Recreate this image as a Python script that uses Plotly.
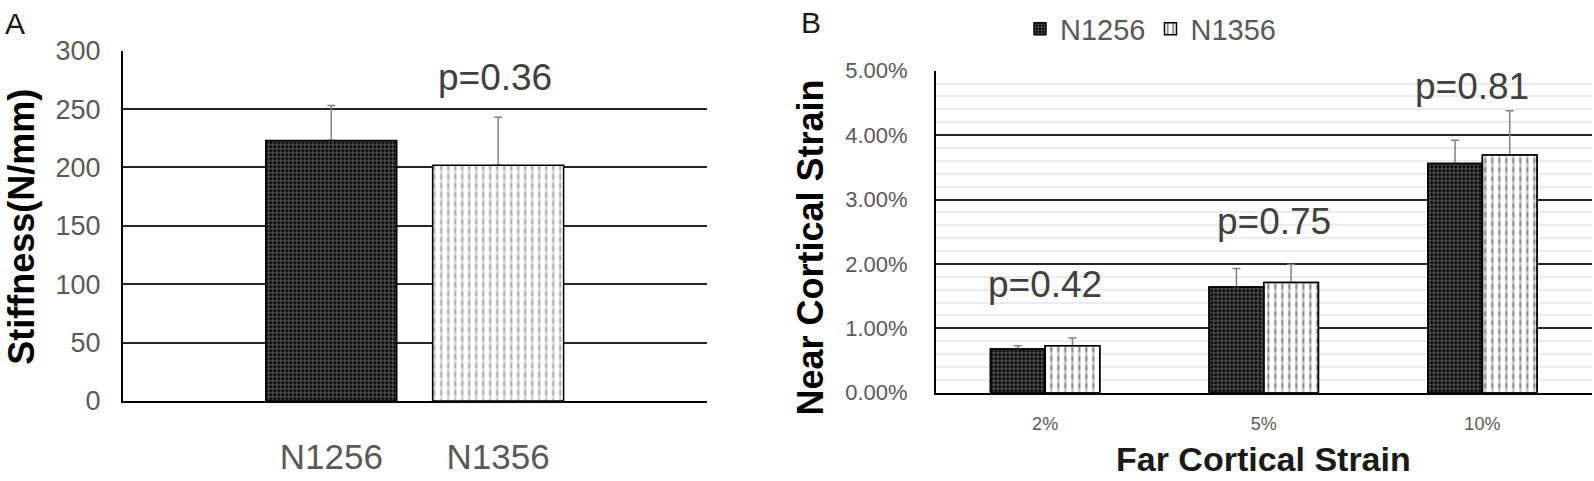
import plotly.graph_objects as go

# ---------------- data ----------------
groups_a = ["N1256", "N1356"]
stiffness = [223, 202]
stiffness_err = [30, 41]
p_a = "p=0.36"

strain_cats = ["2%", "5%", "10%"]
n1256 = [0.0068, 0.0164, 0.0356]
n1256_err = [0.0005, 0.0029, 0.0036]
n1356 = [0.0073, 0.0171, 0.0369]
n1356_err = [0.0012, 0.0028, 0.0069]
p_b = ["p=0.42", "p=0.75", "p=0.81"]

W, H = 1594, 481
FONT = "Liberation Sans, Arial, sans-serif"
GRAY = "#595959"
TXT = "#404040"

fig = go.Figure()

dark_pat = dict(shape="+", fgcolor="white", bgcolor="black", size=4, solidity=0.35)
dash_pat = dict(shape="|", fgcolor="black", bgcolor="white", size=7, solidity=0.3)
cut_pat = dict(shape="-", fgcolor="white", size=9, solidity=0.45, fillmode="overlay")
err_style = dict(type="data", symmetric=False, color="#808080", thickness=1.5, width=4)

# ---------------- panel A ----------------
fig.add_trace(go.Bar(
    x=groups_a, y=stiffness, width=0.785, xaxis="x", yaxis="y", showlegend=False,
    marker=dict(color=["black", "white"], line=dict(width=0),
                pattern=dict(shape=["+", "|"], fgcolor=["white", "black"],
                             bgcolor=["black", "white"], size=[4, 7], solidity=[0.35, 0.3])),
    error_y=dict(array=stiffness_err, arrayminus=[0] * len(stiffness), **err_style),
))
fig.add_trace(go.Bar(
    x=groups_a, y=stiffness, width=0.785, xaxis="x", yaxis="y", showlegend=False, hoverinfo="skip",
    marker=dict(color="rgba(0,0,0,0)", line=dict(width=0),
                pattern=dict(shape=["", "-"], fgcolor="white", size=9, solidity=0.45, fillmode="overlay")),
))
fig.add_trace(go.Bar(
    x=groups_a, y=stiffness, width=0.785, xaxis="x", yaxis="y", showlegend=False, hoverinfo="skip",
    marker=dict(color="rgba(0,0,0,0)", line=dict(width=1.5, color="black")),
))

# ---------------- panel B ----------------
fig.add_trace(go.Bar(
    name="N1256", x=strain_cats, y=n1256, width=0.25, offset=-0.25, xaxis="x2", yaxis="y2",
    marker=dict(color="black", line=dict(width=1.5, color="black"), pattern=dark_pat),
    error_y=dict(array=n1256_err, arrayminus=[0] * 3, **err_style),
))
fig.add_trace(go.Bar(
    name="N1356", x=strain_cats, y=n1356, width=0.25, offset=0, xaxis="x2", yaxis="y2",
    marker=dict(color="white", line=dict(width=1.5, color="black"), pattern=dash_pat),
    error_y=dict(array=n1356_err, arrayminus=[0] * 3, **err_style),
))
fig.add_trace(go.Bar(
    x=strain_cats, y=n1356, width=0.25, offset=0, xaxis="x2", yaxis="y2",
    showlegend=False, hoverinfo="skip",
    marker=dict(color="rgba(0,0,0,0)", line=dict(width=0), pattern=cut_pat),
))
for ys, off in ((n1256, -0.25), (n1356, 0)):
    fig.add_trace(go.Bar(
        x=strain_cats, y=ys, width=0.25, offset=off, xaxis="x2", yaxis="y2",
        showlegend=False, hoverinfo="skip",
        marker=dict(color="rgba(0,0,0,0)", line=dict(width=1.5, color="black")),
    ))

# ---------------- annotations ----------------
def note(text, x, y, size, color, xref="paper", yref="paper", angle=0):
    return dict(text=text, x=x, y=y, xref=xref, yref=yref, showarrow=False,
                xanchor="center", yanchor="middle", textangle=angle,
                font=dict(size=size, color=color, family=FONT))

ann = [note(p_a, 0.98, 277, 37, TXT, "x", "y")]
p_pos = [(0.0, 0.0168), (1.048, 0.02655), (1.952, 0.0475)]
for t, (px, py) in zip(p_b, p_pos):
    ann.append(note(t, px, py, 37, TXT, "x2", "y2"))
ann.append(note("<b>Stiffness(N/mm)</b>", 22 / W, 1 - 226.7 / H, 36, "black", angle=-90))
ann.append(note("<b>Near Cortical Strain</b>", 810 / W, 1 - 247.5 / H, 36, "black", angle=-90))
ann.append(note("<b>Far Cortical Strain</b>", 1263 / W, 1 - 459 / H, 34, "#1a1a1a"))
ann.append(note("A", 15 / W, 1 - 23 / H, 30, "#1a1a1a"))
ann.append(note("B", 811 / W, 1 - 22 / H, 30, "#1a1a1a"))

axis_common = dict(showline=True, linecolor="black", linewidth=1.5, zeroline=False,
                   automargin=False, ticks="", fixedrange=True)

fig.update_layout(
    width=W, height=H, margin=dict(l=0, r=0, t=0, b=0),
    paper_bgcolor="white", plot_bgcolor="white",
    barmode="overlay",
    font=dict(family=FONT, color=GRAY),
    annotations=ann,
    showlegend=True,
    legend=dict(orientation="h", x=1020 / W, y=1 - 29 / H, xanchor="left", yanchor="middle",
                font=dict(size=29, color=GRAY, family=FONT), bgcolor="rgba(0,0,0,0)",
                traceorder="normal", itemwidth=30),
    xaxis=dict(domain=[122.7 / W, 706.7 / W], type="category", range=[-1.25, 2.25],
               showgrid=False, tickfont=dict(size=35, color=GRAY), ticklabelstandoff=24,
               anchor="y", **axis_common),
    yaxis=dict(domain=[1 - 401 / H, 1 - 50.7 / H], range=[0, 300], dtick=50,
               showgrid=True, gridcolor="#262626", gridwidth=1.5,
               tickfont=dict(size=27, color=GRAY), ticklabelstandoff=15,
               anchor="x", **axis_common),
    xaxis2=dict(domain=[935.8 / W, 1591.7 / W], type="category", range=[-0.5, 2.5],
                showgrid=False, tickfont=dict(size=18, color=GRAY), ticklabelstandoff=14,
                anchor="y2", **axis_common),
    yaxis2=dict(domain=[1 - 392.7 / H, 1 - 70.7 / H], range=[0, 0.05], dtick=0.01,
                tickformat=".2%", showgrid=True, gridcolor="#262626", gridwidth=1.5,
                minor=dict(dtick=0.002, showgrid=True, gridcolor="#ececec", gridwidth=1.5),
                tickfont=dict(size=22, color=GRAY), ticklabelstandoff=22,
                anchor="x2", **axis_common),
)

fig.write_html("out.html", config={"displayModeBar": False},
               post_script="document.body.style.margin='0';document.body.style.overflow='hidden';")
